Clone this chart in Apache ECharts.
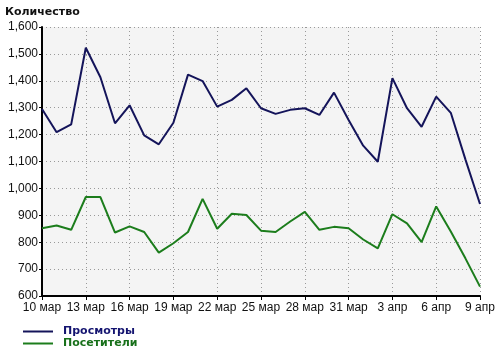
<!DOCTYPE html>
<html>
<head>
<meta charset="utf-8">
<script src="https://cdn.jsdelivr.net/npm/echarts@6/dist/echarts.min.js"></script>
<style>
    html, body { margin: 0; padding: 0; background: #fff; }
    #chart { width: 500px; height: 352px; }
</style>
</head>
<body>
<div id="chart"></div>
<script>
// даты по оси X
const days = [
    '10 мар', '11 мар', '12 мар', '13 мар', '14 мар', '15 мар', '16 мар', '17 мар',
    '18 мар', '19 мар', '20 мар', '21 мар', '22 мар', '23 мар', '24 мар', '25 мар',
    '26 мар', '27 мар', '28 мар', '29 мар', '30 мар', '31 мар', '1 апр', '2 апр',
    '3 апр', '4 апр', '5 апр', '6 апр', '7 апр', '8 апр', '9 апр'
]
// просмотры
const views = [
    1295, 1209, 1238, 1523, 1413, 1242, 1309, 1197, 1164, 1244, 1423, 1399, 1304, 1329, 1372, 1298,
    1277, 1292, 1298, 1273, 1356, 1254, 1159, 1099, 1410, 1298, 1229, 1341, 1281, 1108, 942
]
// посетители
const visitors = [
    852, 862, 846, 968, 968, 836, 859, 838, 761, 796, 838, 961, 850, 906, 901, 843,
    838, 877, 913, 846, 857, 852, 810, 777, 904, 870, 800, 933, 840, 740, 635
]

const legendText = { fontFamily: 'DejaVu Sans', fontSize: 11, fontWeight: 'bold', padding: [0, 0, 0, 5] }
const makeLegend = (name, color, top) => ({
    left: 23,
    top: top,
    itemWidth: 30,
    itemHeight: 2,
    icon: 'rect',
    padding: 0,
    data: [{ name: name, textStyle: Object.assign({}, legendText, { color: color }) }]
})

const chart = echarts.init(document.getElementById('chart'))
const option = {
    animation: false,
    title: {
        text: 'Количество',
        left: 5,
        top: 7,
        padding: 0,
        textStyle: { fontFamily: 'DejaVu Sans', fontSize: 11, fontWeight: 'bold', color: '#111' }
    },
    grid: {
        left: 42, right: 20, top: 27, bottom: 56,
        show: true, backgroundColor: '#f4f4f4', borderWidth: 0
    },
    legend: [
        makeLegend('Просмотры', '#141470', 326),
        makeLegend('Посетители', '#18701a', 338)
    ],
    xAxis: {
        type: 'category',
        data: days,
        boundaryGap: false,
        axisLine: { lineStyle: { color: '#000', width: 2 } },
        axisTick: { interval: 2, length: 4, lineStyle: { color: '#000' } },
        axisLabel: { interval: 2, color: '#111', fontFamily: 'Liberation Sans', fontSize: 12, margin: 6 },
        splitLine: { show: true, interval: 2, lineStyle: { color: '#999', type: [1, 3] } }
    },
    yAxis: {
        type: 'value',
        min: 600,
        max: 1600,
        interval: 100,
        axisLine: { show: true, lineStyle: { color: '#000', width: 2 } },
        axisTick: { show: true, length: 3, lineStyle: { color: '#000' } },
        axisLabel: {
            color: '#111', fontFamily: 'Liberation Sans', fontSize: 12, margin: 4,
            formatter: v => v.toLocaleString('en-US')
        },
        splitLine: { lineStyle: { color: '#999', type: [1, 3] } }
    },
    series: [
        {
            name: 'Просмотры',
            type: 'line',
            data: views,
            symbol: 'none',
            itemStyle: { color: '#14145a' },
            lineStyle: { color: '#14145a', width: 2 }
        },
        {
            name: 'Посетители',
            type: 'line',
            data: visitors,
            symbol: 'none',
            itemStyle: { color: '#1c7d1c' },
            lineStyle: { color: '#1c7d1c', width: 2 }
        }
    ]
}
chart.setOption(option)
</script>
</body>
</html>
